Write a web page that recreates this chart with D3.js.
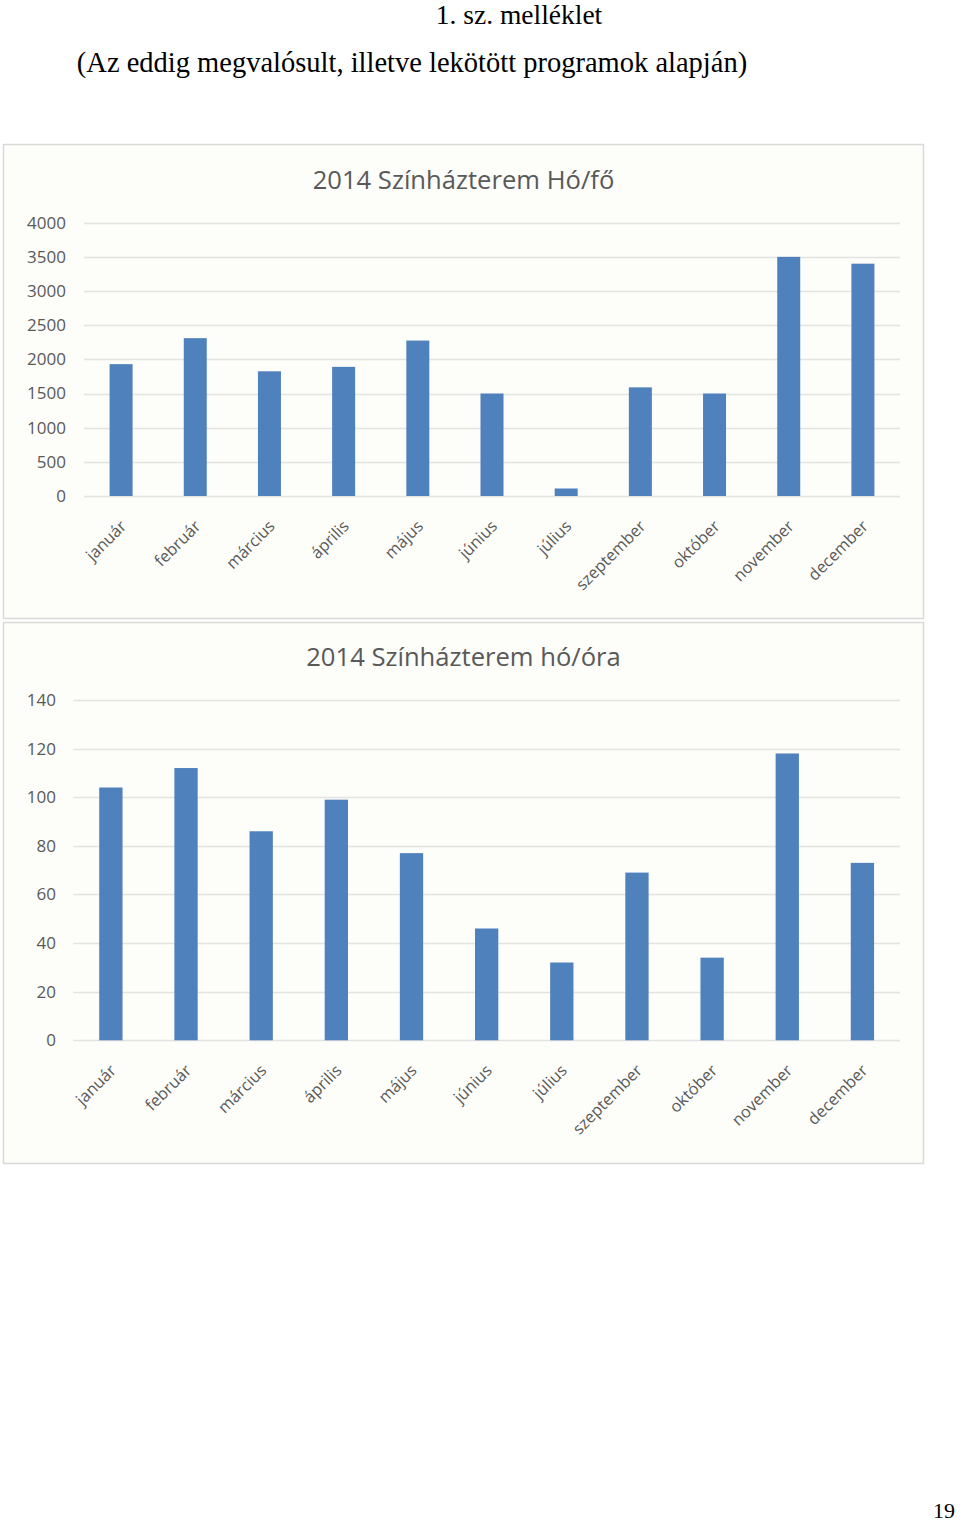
<!DOCTYPE html>
<html>
<head>
<meta charset="utf-8">
<script src="https://cdn.jsdelivr.net/npm/d3@7"></script>
<style>
  html, body { margin: 0; padding: 0; background: #ffffff; }
  svg { display: block; }
</style>
</head>
<body>
<svg id="page" width="960" height="1524"></svg>
<script>
// ---- Data ----
const months = ["január", "február", "március", "április", "május", "június",
                "július", "szeptember", "október", "november", "december"];
const visitorsPerMonth = [1930, 2310, 1825, 1890, 2275, 1500, 110, 1590, 1500, 3500, 3400];
const hoursPerMonth = [104, 112, 86, 99, 77, 46, 32, 69, 34, 118, 73];
const visitorsTicks = [0, 500, 1000, 1500, 2000, 2500, 3000, 3500, 4000];
const hoursTicks = [0, 20, 40, 60, 80, 100, 120, 140];
const pageHeading = "1. sz. melléklet";
const pageSubheading = "(Az eddig megvalósult, illetve lekötött programok alapján)";
const chart1Title = "2014 Színházterem Hó/fő";
const chart2Title = "2014 Színházterem hó/óra";
const pageNumber = "19";

// ---- Page ----
const svg = d3.select("#page");
const serif = "'Liberation Serif', 'Times New Roman', serif";
const sans = "'Open Sans', 'Noto Sans', sans-serif";

svg.append("text").attr("x", 519).attr("y", 24)
  .attr("text-anchor", "middle").attr("font-family", serif)
  .attr("font-size", 27.5).attr("fill", "#000").text(pageHeading);
svg.append("text").attr("x", 412).attr("y", 72)
  .attr("text-anchor", "middle").attr("font-family", serif)
  .attr("font-size", 28.5).attr("fill", "#000").text(pageSubheading);
svg.append("text").attr("x", 955).attr("y", 1518)
  .attr("text-anchor", "end").attr("font-family", serif)
  .attr("font-size", 22).attr("fill", "#000").text(pageNumber);

function drawChart(opts) {
  const g = svg.append("g");
  // panel
  g.append("rect")
    .attr("x", opts.panel.x + 0.5).attr("y", opts.panel.y + 0.5)
    .attr("width", opts.panel.w).attr("height", opts.panel.h)
    .attr("fill", "#fdfdf9").attr("stroke", "#d9d9d9").attr("stroke-width", 1.5);

  // title
  g.append("text")
    .attr("x", opts.titleX).attr("y", opts.titleY)
    .attr("text-anchor", "middle").attr("font-family", sans)
    .attr("font-size", 25.6).attr("fill", "#595959")
    .text(opts.title);

  const x = d3.scaleBand().domain(months)
    .range([opts.plot.left, opts.plot.right]).paddingInner(0.69).paddingOuter(0.345);
  const y = d3.scaleLinear().domain([0, opts.max])
    .range([opts.plot.bottom, opts.plot.top]);

  // gridlines
  g.append("g").selectAll("line").data(opts.ticks).join("line")
    .attr("x1", opts.plot.left).attr("x2", opts.plot.right)
    .attr("y1", d => Math.round(y(d)) + 0.5).attr("y2", d => Math.round(y(d)) + 0.5)
    .attr("stroke", "#e3e3e3").attr("stroke-width", 1.3);

  // y axis labels
  const yAxis = d3.axisLeft(y).tickValues(opts.ticks).tickSize(0).tickPadding(0).tickFormat(d3.format("d"));
  const ya = g.append("g").attr("transform", `translate(${opts.labelRight},0)`).call(yAxis);
  ya.select(".domain").remove();
  ya.selectAll("text").attr("font-family", sans).attr("font-size", 17)
    .attr("fill", "#595959");

  // bars
  g.append("g").selectAll("rect").data(opts.values).join("rect")
    .attr("x", (d, i) => x(months[i]))
    .attr("y", d => y(d))
    .attr("width", x.bandwidth())
    .attr("height", d => y(0) - y(d))
    .attr("fill", "#4f81bd");

  // x axis labels
  g.append("g").selectAll("text").data(months).join("text")
    .attr("transform", d => `translate(${x(d) + x.bandwidth() / 2 - 2},${opts.plot.bottom + 23}) rotate(-45)`)
    .attr("text-anchor", "end")
    .attr("dy", "0.72em")
    .attr("font-family", sans).attr("font-size", 16.3).attr("fill", "#595959")
    .text(d => d);
}

drawChart({
  panel: { x: 3, y: 144, w: 920, h: 474 },
  title: chart1Title, titleX: 463.5, titleY: 189,
  plot: { left: 84, right: 900, top: 222.7, bottom: 496 },
  labelRight: 66,
  max: 4000, ticks: visitorsTicks, values: visitorsPerMonth
});

drawChart({
  panel: { x: 3, y: 622, w: 920, h: 541 },
  title: chart2Title, titleX: 463.5, titleY: 666,
  plot: { left: 73.3, right: 900, top: 700, bottom: 1040.3 },
  labelRight: 56,
  max: 140, ticks: hoursTicks, values: hoursPerMonth
});
</script>
</body>
</html>
